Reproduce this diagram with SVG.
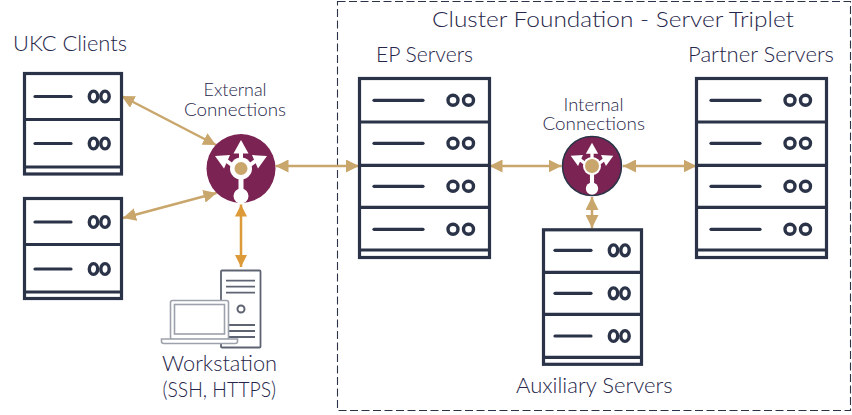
<svg xmlns="http://www.w3.org/2000/svg" width="852" height="415" viewBox="0 0 852 415">
<style>
text{font-family:"Lato","Liberation Sans",sans-serif;font-weight:300;fill:#26264a}
.t{font-size:21.500px}
.s{font-size:17px}
.box{fill:#fff;stroke:#2a3347;stroke-width:3.2}
.ln{stroke:#2a3347;stroke-width:3.2;fill:none}
.dash{stroke:#2a3347;stroke-width:3.2;stroke-linecap:round}
.oo{fill:none;stroke:#2a3347;stroke-width:3.4}
.c{stroke:#c9a66b;stroke-width:2.5;fill:none;marker-start:url(#ah);marker-end:url(#ah)}
.o{stroke:#dd9a38;stroke-width:2.5;fill:none;marker-start:url(#ao);marker-end:url(#ao)}
.w{fill:#fff}
.st{stroke:#fff;stroke-width:4;fill:none}
.g{stroke:#5f6472;stroke-width:1.8;fill:#fff}
.gl{stroke:#5f6472;stroke-width:1.8;fill:none}
.p{stroke:#9da1ab;stroke-width:1.6;fill:#fff}
</style>
<defs>
<marker id="ah" viewBox="0 0 13 13" refX="13" refY="6.500" markerWidth="13" markerHeight="13" markerUnits="userSpaceOnUse" orient="auto-start-reverse"><path d="M0 0L13 6.500L0 13Z" fill="#c9a66b"/></marker>
<marker id="ao" viewBox="0 0 12 12" refX="12" refY="6" markerWidth="12" markerHeight="12" markerUnits="userSpaceOnUse" orient="auto-start-reverse"><path d="M0 0L12 6L0 12Z" fill="#dd9a38"/></marker>
<g id="row"><line class="dash" x1="35" y1="0" x2="71" y2="0"/><ellipse class="oo" cx="93.500" cy="0" rx="4.200" ry="5.400"/><ellipse class="oo" cx="105" cy="0" rx="4.200" ry="5.400"/></g>
<g id="wrow"><line class="dash" x1="374" y1="0" x2="423" y2="0"/><circle class="oo" cx="453" cy="0" r="5"/><circle class="oo" cx="468.500" cy="0" r="5"/></g>
<g id="hub"><path class="w" d="M0-28.500L-7.500-15H7.500Z"/><path class="w" d="M-26-12.500L-11-13.500L-17 0Z"/><path class="w" d="M26-12.500L11-13.500L17 0Z"/><path class="st" d="M0-16V-8M-15-8L-7-2M15-8L7-2"/><circle class="w" r="11"/><rect class="w" x="-2.500" y="8" width="5" height="14"/><circle class="w" cy="27.500" r="7.500"/></g>
</defs>
<rect x="337.500" y="1.500" width="513" height="409" fill="none" stroke="#2a3347" stroke-width="1.1" stroke-dasharray="8 3.500"/>

<g id="connectors">
<line class="c" x1="121.500" y1="96" x2="216" y2="145"/>
<line class="c" x1="123" y1="218" x2="216.500" y2="193"/>
<line class="c" x1="275.500" y1="166" x2="359" y2="166"/>
<line class="o" x1="241" y1="204.500" x2="241" y2="267"/>
<line class="c" x1="489.500" y1="166" x2="561.500" y2="166"/>
<line class="c" x1="623" y1="166" x2="696.500" y2="166"/>
<line class="c" x1="592" y1="197" x2="592" y2="228"/>
</g>

<g id="client-1"><rect class="box" x="24.500" y="73.500" width="97" height="100.500"/><path class="ln" d="M24 119.500H122M24 167H122"/><use href="#row" y="96.500"/><use href="#row" y="143.500"/></g>
<g id="client-2"><rect class="box" x="24.500" y="198.500" width="97" height="100"/><path class="ln" d="M24 244.500H122M24 292H122"/><use href="#row" y="222"/><use href="#row" y="269"/></g>

<g id="ep-servers"><rect class="box" x="359.500" y="78.500" width="130" height="179"/><path class="ln" d="M359 122H490M359 165.300H490M359 207.300H490M359 250H490"/><use href="#wrow" y="100.300"/><use href="#wrow" y="143.300"/><use href="#wrow" y="186.300"/><use href="#wrow" y="229.300"/></g>
<g id="partner-servers"><rect class="box" x="696.500" y="78.500" width="130" height="179"/><path class="ln" d="M696 122H827M696 165.300H827M696 207.300H827M696 250H827"/><use href="#wrow" x="337" y="100.300"/><use href="#wrow" x="337" y="143.300"/><use href="#wrow" x="337" y="186.300"/><use href="#wrow" x="337" y="229.300"/></g>
<g id="auxiliary-servers"><rect class="box" x="543.500" y="229.800" width="98" height="134.500"/><path class="ln" d="M543 272.300H642M543 314.300H642M543 357.300H642"/><use href="#row" x="520" y="250.300"/><use href="#row" x="520" y="293.300"/><use href="#row" x="520" y="336"/></g>

<g id="external-hub"><circle cx="241" cy="168.500" r="34.500" fill="#7b2352"/><use href="#hub" transform="translate(241 168.500)"/><circle cx="241" cy="168.500" r="6.500" fill="#c9a66b"/></g>
<g id="internal-hub"><circle cx="592" cy="166" r="29.500" fill="#7b2352" stroke="#2a3347" stroke-width="1.5"/><use href="#hub" transform="translate(592 166) scale(.82)"/><circle cx="592" cy="166" r="7" fill="#c9a66b"/></g>

<g id="workstation">
<rect class="g" x="221" y="270.500" width="39.500" height="77" rx="1"/>
<path class="gl" d="M226 280.700H255M226 286.700H255M226 292.700H255M226 325H255M226 331H255M226 337H255"/>
<circle cx="241" cy="309" r="3.500" fill="#fff" stroke="#5f6472" stroke-width="2"/>
<rect class="p" x="170.500" y="300.500" width="58" height="39" rx="2"/>
<rect class="p" x="174.500" y="304.500" width="50" height="29.500"/>
<path class="p" d="M161.500 339H237.500V341.500Q237.500 343.500 235 343.500H164Q161.500 343.500 161.500 341.500Z"/>
</g>

<text class="t" x="13" y="51" textLength="114" lengthAdjust="spacingAndGlyphs">UKC Clients</text>
<text class="s" x="203.500" y="96" textLength="63" lengthAdjust="spacingAndGlyphs">External</text>
<text class="s" x="184" y="116" textLength="102" lengthAdjust="spacingAndGlyphs">Connections</text>
<text class="t" x="162" y="371" textLength="115" lengthAdjust="spacingAndGlyphs">Workstation</text>
<text class="t" x="162.500" y="397" textLength="113.500" lengthAdjust="spacingAndGlyphs">(SSH, HTTPS)</text>
<text class="t" x="432" y="27" textLength="362" lengthAdjust="spacingAndGlyphs">Cluster Foundation - Server Triplet</text>
<text class="t" x="376" y="62" textLength="97" lengthAdjust="spacingAndGlyphs">EP Servers</text>
<text class="t" x="688" y="62" textLength="146" lengthAdjust="spacingAndGlyphs">Partner Servers</text>
<text class="s" x="563.500" y="110.500" textLength="60" lengthAdjust="spacingAndGlyphs">Internal</text>
<text class="s" x="542.500" y="130" textLength="102.500" lengthAdjust="spacingAndGlyphs">Connections</text>
<text class="t" x="516" y="393" textLength="156.500" lengthAdjust="spacingAndGlyphs">Auxiliary Servers</text>
</svg>
